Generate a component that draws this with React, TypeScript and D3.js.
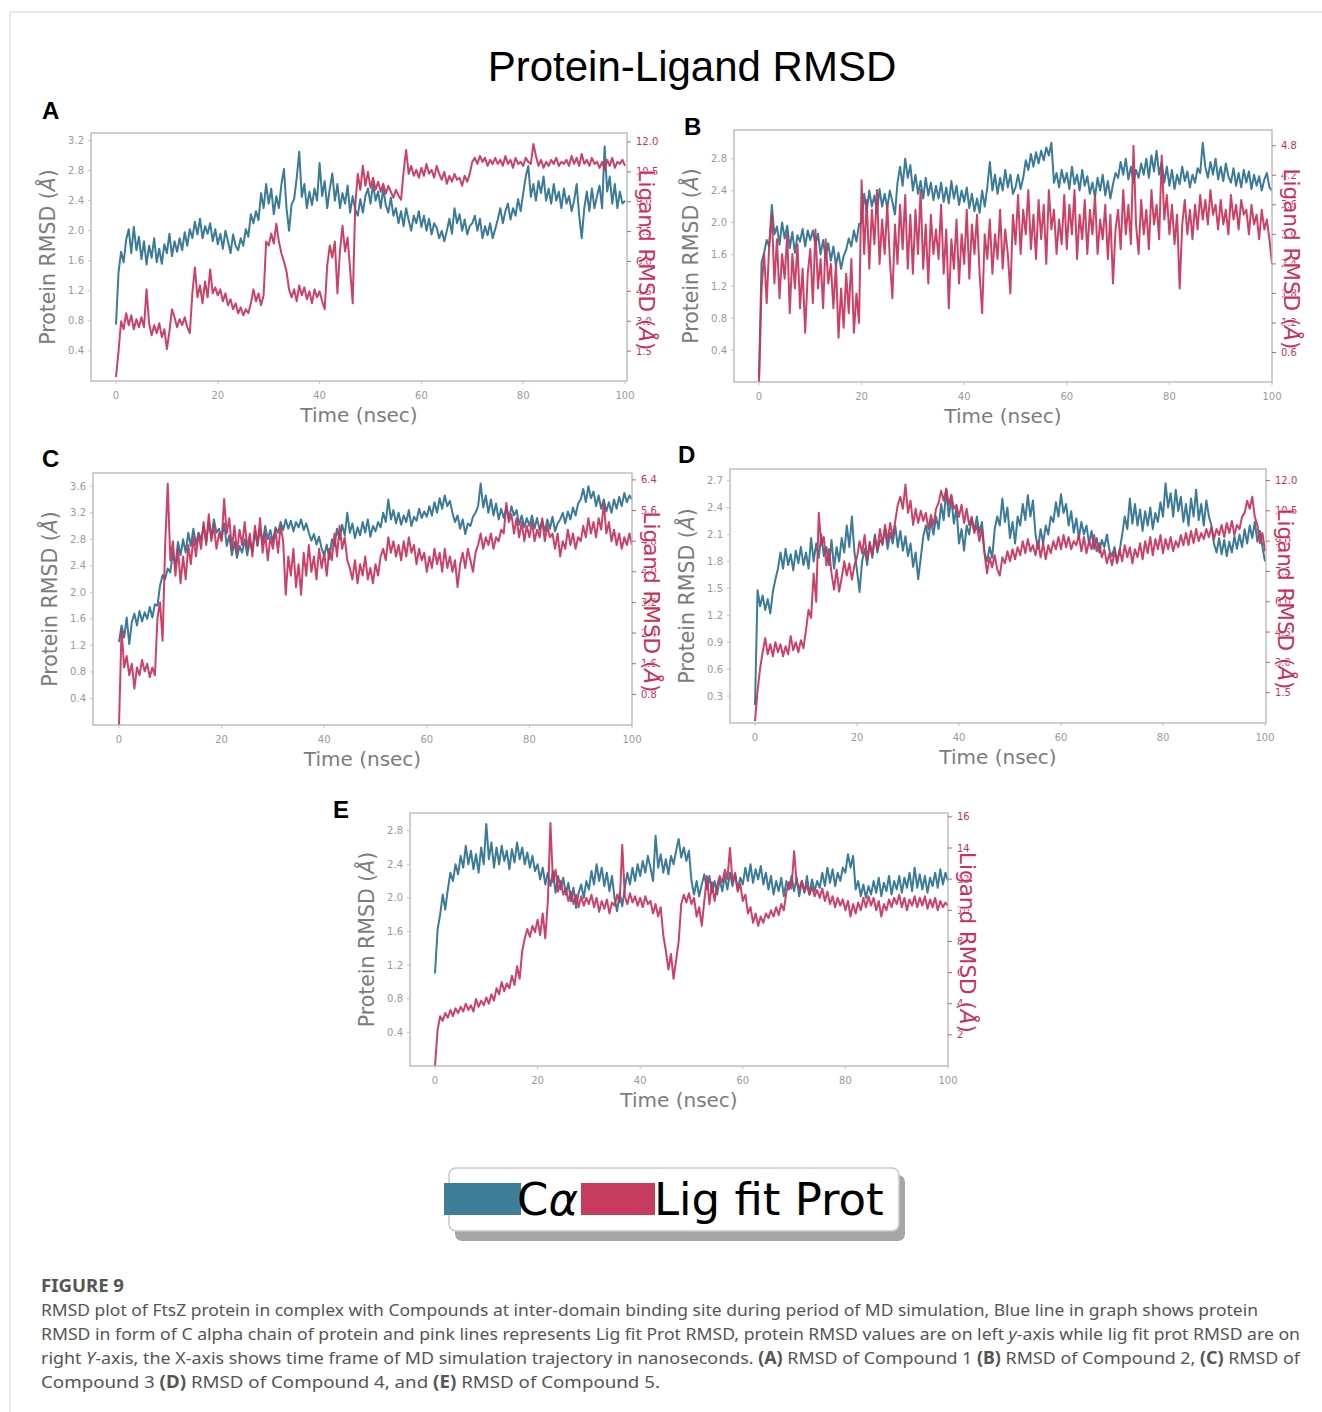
import React from 'react';
import * as d3 from 'd3';

// sampling interval of every trajectory series (nsec)
const STEP = 0.5;

// ---- Compound 1 (A)
const A_PROTEIN = [
  0.75, 1.45, 1.72, 1.58, 1.88, 2.02, 1.7, 2.05, 1.74, 1.92,
  1.62, 1.86, 1.55, 1.8, 1.64, 1.9, 1.58, 1.76, 1.56, 1.82,
  1.7, 1.96, 1.66, 1.86, 1.72, 1.9, 1.74, 1.98, 1.8, 2.02,
  1.9, 2.12, 1.95, 2.16, 1.9, 2.06, 1.96, 2.1, 1.86, 2.02,
  1.82, 1.96, 1.76, 2.0, 1.86, 1.7, 1.95, 1.8, 1.74, 1.9,
  1.8, 2.02, 1.92, 2.22, 2.1, 2.26, 2.14, 2.5, 2.3, 2.62,
  2.36, 2.56, 2.22, 2.46, 2.3, 2.62, 2.82, 2.3, 2.0, 2.35,
  2.42, 2.7, 3.05, 2.45, 2.62, 2.3, 2.52, 2.34, 2.56, 2.4,
  2.9, 2.46, 2.66, 2.3, 2.56, 2.76, 2.4, 2.62, 2.3, 2.5,
  2.36, 2.6, 2.24, 2.46, 2.28, 2.2, 2.42, 2.24, 2.46, 2.56,
  2.36, 2.62, 2.4, 2.52, 2.3, 2.56, 2.34, 2.24, 2.44, 2.2,
  2.3, 2.1, 2.26, 2.06, 2.3, 2.14, 2.0, 2.2, 2.1, 2.26,
  2.05, 2.2, 2.0, 2.16, 1.95, 2.1, 2.04, 1.9, 2.0, 1.86,
  2.0, 2.16, 1.96, 2.3, 2.1, 2.22, 2.0, 2.15, 1.95, 2.06,
  2.1, 2.2, 2.0, 2.16, 1.9, 2.06, 1.94, 2.1, 1.9, 2.02,
  2.15, 2.3, 2.1, 2.26, 2.36, 2.15, 2.3, 2.2, 2.42, 2.26,
  2.5, 2.72, 2.86, 2.45, 2.62, 2.4, 2.66, 2.5, 2.72, 2.4,
  2.56, 2.36, 2.62, 2.4, 2.52, 2.3, 2.56, 2.36, 2.46, 2.26,
  2.4, 2.62, 2.2, 1.9, 2.3, 2.52, 2.26, 2.56, 2.3, 2.46,
  2.6, 2.3, 3.12, 2.52, 2.72, 2.36, 2.62, 2.3, 2.52, 2.36,
  2.4,
];
const A_LIGAND = [
  0.2, 1.5, 3.0, 2.6, 3.4, 2.8, 3.3, 2.6, 3.1, 2.7,
  3.2, 2.7, 4.6, 2.9, 2.3, 2.8, 2.4, 2.9, 2.2, 2.6,
  1.6, 2.5, 3.6, 3.2, 2.7, 3.1, 2.8, 3.2, 2.7, 2.4,
  4.4, 5.7, 4.2, 4.8, 3.9, 5.0, 4.2, 5.6, 4.4, 4.7,
  4.3, 4.6, 4.0, 4.4, 3.8, 4.1, 3.6, 3.9, 3.4, 3.7,
  3.3, 3.6, 3.4, 3.9, 4.6, 4.0, 4.4, 3.8, 4.3, 7.0,
  6.8, 7.4, 6.9, 7.9, 7.0, 6.4, 6.0, 5.5, 4.6, 4.2,
  4.6, 4.0, 4.8, 4.3, 4.7, 4.1, 4.5, 3.9, 4.6, 4.2,
  4.5, 4.0, 3.6, 5.8, 6.8, 6.2, 7.0, 4.4, 6.5, 7.8,
  6.5, 7.2, 5.6, 3.9, 8.8, 10.4, 9.6, 10.8, 9.8, 10.5,
  9.7, 10.2, 9.6, 10.0, 9.5, 9.9, 9.4, 9.8, 9.5, 9.2,
  9.6, 9.3, 9.1, 10.5, 11.6, 10.4, 10.8, 10.3, 10.6, 10.2,
  10.7, 10.3, 10.9, 10.4, 10.6, 10.2, 10.8, 10.4, 10.1, 10.5,
  9.9, 10.3, 10.0, 10.4, 10.1, 10.2, 9.8, 10.3, 10.0, 10.4,
  11.0, 11.2, 10.9, 11.3, 11.0, 11.2, 10.8, 11.1, 10.9, 11.2,
  10.9, 11.1, 10.8, 11.3, 10.9, 11.1, 10.7, 11.2, 10.9, 11.0,
  10.8, 11.2, 11.0, 10.9, 11.9, 11.3, 10.8, 11.1, 10.7, 11.0,
  10.8, 11.1, 10.9, 11.2, 10.8, 11.0, 10.9, 11.1, 10.8, 11.3,
  10.9, 11.2, 10.8, 11.4, 10.9, 11.1, 10.8, 11.2, 10.9, 11.0,
  10.7, 11.0, 10.6, 11.1, 10.8, 11.2, 10.7, 11.0, 10.9, 11.1,
  10.8,
];

// ---- Compound 2 (B)
const B_PROTEIN = [
  0.05, 1.5, 1.62, 1.78, 1.7, 2.22, 1.85, 1.95, 1.72, 2.0,
  1.8, 1.96, 1.68, 1.88, 1.62, 1.84, 1.76, 1.92, 1.7, 1.9,
  1.78, 1.9, 1.72, 1.86, 1.6, 1.78, 1.56, 1.74, 1.52, 1.7,
  1.46, 1.62, 1.42, 1.58, 1.66, 1.8, 1.7, 1.9, 1.76, 1.98,
  2.0, 2.36, 2.14, 2.4, 2.2, 2.34, 2.12, 2.42, 2.2, 2.36,
  2.18, 2.4, 2.26, 2.1, 2.5, 2.7, 2.46, 2.8, 2.56, 2.72,
  2.4, 2.6, 2.36, 2.52, 2.3, 2.56, 2.34, 2.5, 2.28, 2.46,
  2.3, 2.5, 2.26, 2.44, 2.24, 2.52, 2.3, 2.46, 2.22, 2.4,
  2.26, 2.44, 2.18, 2.36, 2.14, 2.3, 2.12, 2.4, 2.2, 2.44,
  2.76, 2.4, 2.6, 2.36, 2.56, 2.4, 2.66, 2.44, 2.6, 2.36,
  2.44, 2.6, 2.42, 2.56, 2.78, 2.66, 2.86, 2.7, 2.88, 2.74,
  2.9, 2.78, 2.94, 2.84, 3.0, 2.5, 2.62, 2.44, 2.66, 2.5,
  2.62, 2.42, 2.7, 2.48, 2.6, 2.4, 2.66, 2.46, 2.58, 2.36,
  2.5, 2.32, 2.56, 2.4, 2.6, 2.34, 2.52, 2.3, 2.48, 2.62,
  2.56, 2.76, 2.6, 2.8, 2.54, 2.7, 2.5, 2.66, 2.56, 2.74,
  2.6, 2.8, 2.56, 2.84, 2.64, 2.9, 2.6, 2.76, 2.5, 2.7,
  2.46, 2.66, 2.42, 2.6, 2.48, 2.7, 2.52, 2.64, 2.44, 2.6,
  2.5, 2.68, 2.62, 3.0, 2.7, 2.56, 2.76, 2.6, 2.8, 2.54,
  2.7, 2.52, 2.74, 2.58, 2.5, 2.68, 2.46, 2.62, 2.44, 2.66,
  2.5, 2.64, 2.42, 2.6, 2.46, 2.58, 2.4, 2.54, 2.62, 2.44,
  2.4,
];
const B_LIGAND = [
  0.0, 1.9, 2.6, 1.6, 2.8, 3.4, 2.0, 2.9, 1.7, 2.6,
  2.1, 3.0, 1.4, 2.6, 1.9, 2.8, 1.5, 2.3, 1.0, 2.2,
  2.7, 1.6, 3.1, 1.9, 2.5, 1.5, 2.9, 2.0, 2.4, 1.5,
  2.4, 0.9, 1.9, 1.1, 2.2, 1.4, 2.5, 1.0, 1.8, 1.2,
  4.1, 2.6, 3.7, 2.3, 3.5, 2.8, 3.9, 2.4, 3.3, 2.6,
  3.6, 2.5, 1.7, 3.2, 2.4, 3.6, 2.7, 3.8, 2.3, 3.4,
  2.2, 3.5, 2.6, 3.9, 2.3, 3.2, 2.0, 3.4, 2.6, 3.1,
  2.5, 3.6, 2.2, 3.1, 1.5, 2.9, 2.3, 3.3, 2.0, 3.0,
  2.4, 3.5, 2.1, 3.2, 2.6, 3.4, 2.2, 1.4, 3.0, 2.5,
  3.3, 2.2, 3.0, 2.5, 3.5, 2.3, 3.1, 2.6, 1.8, 3.4,
  2.8, 3.8, 2.6, 3.5, 3.0, 3.9, 2.7, 3.4, 2.5, 3.7,
  2.9, 3.6, 2.4, 3.9, 3.1, 3.5, 2.6, 3.3, 2.8, 3.8,
  2.7, 3.6, 3.0, 3.9, 2.5, 3.4, 2.9, 3.7, 2.6, 3.5,
  3.0, 3.8, 2.6, 3.3, 2.9, 3.6, 2.5, 3.4, 2.0, 3.1,
  3.5, 2.7, 3.9, 3.0, 3.6, 2.8, 4.8, 3.2, 2.6, 3.7,
  3.0, 3.5, 2.7, 3.9, 3.2, 3.6, 2.9, 4.6, 3.3, 3.8,
  3.0, 3.6, 2.8, 3.4, 1.9, 3.2, 3.7, 3.0, 3.5, 2.9,
  3.6, 3.1, 3.8, 3.3, 3.7, 3.2, 3.9, 3.4, 3.6, 3.1,
  3.7, 3.2, 3.5, 3.0, 3.8, 3.3, 3.6, 3.1, 3.7, 3.4,
  3.5, 3.0, 3.6, 3.2, 3.4, 2.9, 3.5, 3.1, 3.3, 2.9,
  2.4,
];

// ---- Compound 3 (C)
const C_PROTEIN = [
  1.25, 1.5, 1.32, 1.62, 1.22, 1.55, 1.68, 1.5, 1.72, 1.56,
  1.7, 1.6, 1.78, 1.62, 1.82, 1.8, 2.1, 2.26, 2.2, 2.36,
  2.3, 2.6, 2.4, 2.76, 2.56, 2.8, 2.6, 2.9, 2.7, 2.96,
  2.72, 2.9, 2.8, 3.0, 2.76, 3.06, 2.84, 3.1, 2.9, 2.96,
  2.8, 3.04, 2.7, 2.86, 2.56, 2.76, 2.52, 2.7, 2.6, 2.8,
  2.56, 2.78, 2.62, 2.92, 2.7, 2.96, 2.76, 3.0, 2.8, 2.94,
  2.76, 2.98, 2.9, 3.06, 2.94, 3.1, 2.96, 3.08, 2.92, 3.06,
  2.98, 3.1, 2.94, 3.04, 2.9, 2.78, 2.88, 2.72, 2.84, 2.66,
  2.56, 2.72, 2.5, 2.8, 2.7, 2.96, 2.8, 3.02, 2.86, 3.2,
  2.9, 3.04, 2.82, 2.98, 2.86, 3.06, 2.9, 3.1, 2.84, 3.0,
  2.92, 3.06, 2.98, 3.2, 3.06, 3.4, 3.1, 3.24, 3.04, 3.2,
  3.02, 3.16, 3.06, 3.24, 3.0, 3.14, 3.08, 3.26, 3.12, 3.22,
  3.14, 3.3, 3.16, 3.36, 3.2, 3.42, 3.26, 3.46, 3.3, 3.38,
  3.2, 3.06, 3.16, 2.96, 3.1, 2.88, 3.04, 3.0, 3.14, 3.2,
  3.3, 3.64, 3.28, 3.46, 3.2, 3.4, 3.16, 3.34, 3.1, 3.26,
  3.12, 3.28, 3.1, 3.3, 3.16, 3.24, 3.02, 3.16, 2.98, 3.12,
  3.0, 3.16, 2.96, 3.12, 2.94, 3.08, 2.92, 3.1, 2.96, 3.14,
  2.92, 3.04, 3.1, 3.2, 3.04, 3.22, 3.1, 3.28, 3.16, 3.34,
  3.4, 3.56, 3.36, 3.6, 3.42, 3.52, 3.3, 3.46, 3.26, 3.4,
  3.22, 3.36, 3.2, 3.4, 3.26, 3.44, 3.3, 3.5, 3.36, 3.46,
  3.4,
];
const C_LIGAND = [
  0.0, 2.5, 1.5, 1.8, 1.3, 1.6, 0.95, 1.5, 1.3, 1.7,
  1.4, 1.6, 1.25, 1.5, 1.3, 2.8, 3.2, 2.2, 4.7, 6.3,
  4.3, 4.8, 3.9, 4.6, 3.7, 4.4, 3.8, 4.7, 4.2, 4.9,
  4.4, 5.0, 4.6, 5.3, 4.7, 5.5, 4.8, 5.2, 4.6, 5.0,
  4.8, 5.9, 5.0, 5.4, 4.6, 5.2, 4.5, 5.1, 4.7, 5.3,
  4.6, 5.0, 4.4, 5.2, 4.7, 5.4, 4.5, 5.0, 4.3, 4.9,
  4.6, 5.1, 4.5, 5.2, 4.8, 3.4, 4.4, 3.9, 4.6, 3.6,
  4.2, 3.4, 4.5, 3.9, 4.7, 4.0, 4.4, 3.8, 4.6, 4.1,
  4.5, 3.9, 4.6, 4.3, 5.0, 4.4, 5.2, 4.6, 4.9, 4.3,
  4.1, 3.8, 4.3, 3.7, 4.2, 3.9, 4.4, 3.8, 4.1, 3.7,
  4.2, 3.9, 4.4, 4.6, 4.3, 4.9, 4.5, 4.8, 4.4, 4.7,
  4.3, 4.8, 4.4, 4.9, 4.5, 4.7, 4.2, 4.6, 4.3, 4.5,
  4.0, 4.4, 4.1, 4.6, 4.2, 4.5, 4.0, 4.6, 4.1, 4.4,
  4.0, 4.3, 3.6, 4.2, 4.5, 4.1, 4.6, 4.3, 4.0, 4.5,
  4.7, 5.0, 4.6, 4.9, 4.7, 5.0, 4.6, 4.9, 4.8, 5.1,
  5.0, 5.8, 5.3, 5.5, 5.0, 5.4, 4.9, 5.3, 4.8, 5.2,
  4.9, 5.3, 4.8, 5.1, 4.9, 5.4, 4.8, 5.2, 4.9, 5.0,
  4.6, 5.0, 4.4, 4.8, 4.6, 5.1, 4.7, 5.0, 4.6, 4.9,
  4.8, 5.2, 4.9, 5.4, 5.0, 5.3, 4.9, 5.4, 5.1, 5.8,
  5.0, 5.3, 4.8, 5.1, 4.7, 5.0, 4.6, 4.9, 4.7, 5.0,
  4.7,
];

// ---- Compound 4 (D)
const D_PROTEIN = [
  0.2, 1.48, 1.3, 1.42, 1.26, 1.38, 1.22, 1.46, 1.6, 1.72,
  1.9, 1.72, 1.94, 1.76, 1.88, 1.7, 1.92, 1.78, 1.96, 1.76,
  1.9, 1.72, 2.06, 1.8, 2.0, 1.84, 2.1, 1.86, 1.96, 1.76,
  2.04, 1.72, 1.96, 1.8, 2.06, 1.9, 2.2, 1.96, 2.3, 1.9,
  1.7, 1.46, 1.8, 1.94, 1.76, 2.02, 1.84, 2.1, 1.9, 2.04,
  2.0, 2.16, 1.94, 2.12, 2.0, 2.2, 1.96, 2.14, 1.92, 2.08,
  1.86, 2.0, 1.74, 1.9, 1.6, 1.84, 2.08, 2.2, 2.04, 2.26,
  2.1, 2.3, 2.16, 2.44, 2.26, 2.6, 2.3, 2.5, 2.22, 2.4,
  2.0, 2.16, 1.92, 2.2, 2.1, 2.28, 2.14, 2.3, 2.12, 2.24,
  1.9, 1.8, 1.96, 1.84, 2.16, 2.3, 2.2, 2.5, 2.24, 2.4,
  2.06, 2.24, 2.0, 2.3, 2.2, 2.44, 2.26, 2.54, 2.3, 2.48,
  2.1, 1.94, 2.16, 2.0, 2.2, 2.1, 2.3, 2.24, 2.46, 2.3,
  2.55, 2.34, 2.44, 2.2, 2.36, 2.12, 2.28, 2.06, 2.24, 2.1,
  2.2, 2.0, 2.14, 1.94, 2.06, 1.9, 2.04, 1.96, 2.1, 1.92,
  1.86, 1.96, 1.8, 1.92, 2.1, 2.3, 2.16, 2.5, 2.22, 2.44,
  2.2, 2.38, 2.14, 2.36, 2.2, 2.4, 2.16, 2.34, 2.24, 2.46,
  2.3, 2.67, 2.4, 2.56, 2.3, 2.6, 2.36, 2.52, 2.24, 2.44,
  2.2, 2.5, 2.3, 2.6, 2.26, 2.44, 2.2, 2.48, 2.3, 2.2,
  2.0, 1.9, 2.06, 1.88, 2.04, 1.86, 2.02, 1.9, 2.08, 1.94,
  2.1, 1.96, 2.16, 2.0, 2.2, 2.06, 2.24, 2.02, 2.14, 1.96,
  1.8,
];
const D_LIGAND = [
  0.1, 1.6, 2.7, 3.5, 4.2, 3.4, 3.9, 3.3, 4.0, 3.5,
  3.9, 3.3, 3.8, 3.4, 4.3, 3.6, 4.0, 3.5, 4.1, 3.7,
  4.6, 5.6, 5.2, 7.4, 6.0, 10.4, 8.8, 9.2, 7.8, 8.6,
  7.4, 6.6, 7.6, 6.5, 7.2, 8.0, 7.3, 7.9, 7.1, 7.8,
  8.2, 9.0, 8.4, 9.3, 8.1, 8.9, 8.3, 9.2, 8.6, 9.6,
  8.8, 9.8, 9.0, 9.9, 9.2, 10.0, 10.8, 11.2, 10.6, 11.8,
  10.4, 11.0, 9.8, 10.6, 9.9, 10.5, 10.0, 10.4, 9.6, 10.3,
  9.8, 10.6, 10.9, 11.5, 11.0, 11.6, 10.8, 11.3, 10.6, 10.8,
  10.2, 10.8, 9.9, 10.6, 9.8, 10.2, 9.4, 9.8, 9.0, 9.6,
  8.4, 7.4, 8.2, 7.7, 8.3, 7.6, 7.3, 8.2, 7.9, 8.5,
  8.0, 8.6, 8.1, 8.7, 8.3, 9.0, 8.4, 9.1, 8.5, 8.8,
  8.3, 9.0, 8.2, 8.9, 8.1, 8.8, 8.4, 9.0, 8.6, 9.2,
  8.6, 9.3, 8.7, 9.2, 8.6, 9.0, 8.8, 9.3, 8.5, 9.2,
  8.4, 9.0, 8.6, 9.3, 8.5, 8.9, 8.2, 8.6, 7.9, 8.4,
  7.8, 8.5, 7.9, 8.6, 8.0, 8.8, 8.2, 8.7, 7.9, 8.6,
  8.2, 8.9, 8.1, 9.0, 8.4, 9.2, 8.3, 9.1, 8.6, 9.3,
  8.4, 9.1, 8.6, 9.2, 8.5, 9.0, 8.7, 9.3, 8.8, 9.4,
  8.8, 9.5, 8.9, 9.6, 9.0, 9.4, 9.1, 9.6, 9.2, 9.7,
  9.1, 9.6, 9.3, 9.8, 9.2, 9.9, 9.4, 10.0, 9.3, 9.8,
  9.6, 10.2, 10.4, 11.0, 10.6, 11.2, 10.2, 9.8, 8.9, 9.4,
  8.5,
];

// ---- Compound 5 (E)
const E_PROTEIN = [
  1.1, 1.62, 1.8, 2.04, 1.86, 2.1, 2.3, 2.2, 2.4, 2.28,
  2.5, 2.36, 2.62, 2.4, 2.56, 2.34, 2.52, 2.3, 2.6, 2.4,
  2.88, 2.46, 2.66, 2.36, 2.6, 2.4, 2.62, 2.44, 2.56, 2.34,
  2.58, 2.42, 2.66, 2.46, 2.6, 2.4, 2.54, 2.36, 2.5, 2.32,
  2.4, 2.22, 2.36, 2.16, 2.3, 2.14, 2.32, 2.06, 2.26, 2.1,
  2.24, 2.04, 2.18, 1.96, 2.12, 1.88, 2.06, 2.16, 2.0, 2.2,
  2.1, 2.32, 2.16, 2.4, 2.2, 2.36, 2.14, 2.3, 2.08, 2.26,
  2.0, 1.84, 2.06, 1.9, 2.12, 2.3, 2.16, 2.36, 2.2, 2.4,
  2.26, 2.44, 2.3, 2.5, 2.36, 2.2, 2.74, 2.36, 2.52, 2.3,
  2.46, 2.28, 2.5, 2.4, 2.56, 2.7, 2.48, 2.6, 2.44, 2.56,
  2.2, 2.04, 2.2, 2.02, 2.16, 2.28, 2.1, 2.26, 2.06, 2.2,
  2.04, 2.22, 2.08, 2.26, 2.1, 2.3, 2.14, 2.28, 2.1, 2.24,
  2.16, 2.36, 2.2, 2.4, 2.18, 2.34, 2.22, 2.38, 2.16, 2.3,
  2.1, 2.26, 2.04, 2.2, 2.08, 2.24, 2.02, 2.2, 2.1, 2.26,
  2.08, 2.24, 2.02, 2.2, 2.06, 2.26, 2.04, 2.22, 2.08, 2.2,
  2.12, 2.3, 2.14, 2.36, 2.18, 2.34, 2.14, 2.3, 2.2, 2.36,
  2.3, 2.52, 2.36, 2.5, 2.1, 2.2, 2.02, 2.16, 2.0, 2.14,
  2.04, 2.2, 2.06, 2.24, 2.02, 2.18, 2.08, 2.26, 2.04, 2.2,
  2.1, 2.26, 2.06, 2.24, 2.12, 2.3, 2.08, 2.36, 2.12, 2.28,
  2.1, 2.26, 2.06, 2.24, 2.14, 2.3, 2.12, 2.34, 2.16, 2.3,
  2.2,
];
const E_LIGAND = [
  0.0, 2.3, 3.2, 2.9, 3.4, 3.1, 3.6, 3.2, 3.7, 3.4,
  3.8, 3.5, 4.0, 3.6, 3.9, 3.5, 4.3, 3.8, 4.2, 3.9,
  4.4, 4.0, 4.6, 4.2, 5.0, 4.6, 5.4, 4.8, 5.3, 5.0,
  5.8, 5.2, 6.4, 5.6, 7.4, 8.2, 8.8, 8.3, 9.0, 8.6,
  9.4, 8.4, 9.8, 8.2, 10.6, 15.6, 11.8, 12.6, 11.2, 11.9,
  11.0, 11.4, 10.6, 11.2, 10.4, 11.0, 10.2, 10.9, 10.3, 10.8,
  10.4, 11.0, 10.2, 10.8, 9.9, 10.6, 10.1, 10.7, 9.8, 10.5,
  10.3, 11.0, 10.5, 14.2, 10.9, 10.4, 11.1, 10.5, 10.9, 10.3,
  10.8, 10.2, 10.9, 10.4, 10.6, 9.8, 10.4, 9.6, 10.2, 8.4,
  7.4, 6.2, 7.2, 5.6, 6.8, 8.0, 10.4, 11.0, 10.5, 11.1,
  10.4, 10.8, 9.6, 10.2, 9.0, 10.6, 12.2, 10.4, 11.8, 10.6,
  11.6, 12.2, 11.8, 12.6, 12.0, 14.0, 11.8, 12.4, 11.2, 11.7,
  10.6, 11.0, 9.8, 10.2, 9.2, 9.8, 9.0, 9.6, 9.2, 9.8,
  9.5, 10.0, 9.6, 10.2, 9.7, 10.4, 10.0, 11.2, 11.8, 11.4,
  13.8, 11.8, 11.4, 11.9, 11.2, 11.6, 11.0, 11.5, 10.9, 11.3,
  10.8, 11.4, 10.6, 11.2, 10.4, 10.9, 10.2, 10.8, 10.3, 10.7,
  10.0, 10.6, 9.6, 10.4, 9.8, 10.5, 10.0, 10.8, 10.2, 10.9,
  10.3, 10.8, 10.0, 10.6, 9.6, 10.4, 10.0, 10.7, 10.2, 10.8,
  10.4, 11.0, 10.2, 10.8, 10.0, 10.7, 10.3, 10.9, 10.2, 10.8,
  10.3, 10.9, 10.1, 10.7, 10.2, 10.8, 10.0, 10.6, 10.2, 10.5,
  10.3,
];

// axis ticks
const TIME_TICKS = [0, 20, 40, 60, 80, 100];
const A_LEFT_TICKS = [0.4, 0.8, 1.2, 1.6, 2.0, 2.4, 2.8, 3.2];
const A_RIGHT_TICKS = [1.5, 3.0, 4.5, 6.0, 7.5, 9.0, 10.5, 12.0];
const B_LEFT_TICKS = [0.4, 0.8, 1.2, 1.6, 2.0, 2.4, 2.8];
const B_RIGHT_TICKS = [0.6, 1.2, 1.8, 2.4, 3.0, 3.6, 4.2, 4.8];
const C_LEFT_TICKS = [0.4, 0.8, 1.2, 1.6, 2.0, 2.4, 2.8, 3.2, 3.6];
const C_RIGHT_TICKS = [0.8, 1.6, 2.4, 3.2, 4.0, 4.8, 5.6, 6.4];
const D_LEFT_TICKS = [0.3, 0.6, 0.9, 1.2, 1.5, 1.8, 2.1, 2.4, 2.7];
const D_RIGHT_TICKS = [1.5, 3.0, 4.5, 6.0, 7.5, 9.0, 10.5, 12.0];
const E_LEFT_TICKS = [0.4, 0.8, 1.2, 1.6, 2.0, 2.4, 2.8];
const E_RIGHT_TICKS = [2, 4, 6, 8, 10, 12, 14, 16];

const BLUE = '#3b7b97';
const RED = '#c8325a';
const SANS = 'DejaVu Sans, sans-serif';

const panels = [
  { id: 'A', protein: A_PROTEIN, ligand: A_LIGAND, lt: A_LEFT_TICKS, rt: A_RIGHT_TICKS, lMax: 3.3, rMax: 12.45, fmt: '.1f',
    x0: 91, x1: 627, y0: 133, y1: 381, t0: 116, t100: 625, letter: [42, 119] },
  { id: 'B', protein: B_PROTEIN, ligand: B_LIGAND, lt: B_LEFT_TICKS, rt: B_RIGHT_TICKS, lMax: 3.16, rMax: 5.12, fmt: '.1f',
    x0: 734, x1: 1272, y0: 130, y1: 382, t0: 759, t100: 1272, letter: [684, 135] },
  { id: 'C', protein: C_PROTEIN, ligand: C_LIGAND, lt: C_LEFT_TICKS, rt: C_RIGHT_TICKS, lMax: 3.8, rMax: 6.58, fmt: '.1f',
    x0: 93, x1: 632, y0: 473, y1: 725, t0: 119, t100: 632, letter: [42, 467] },
  { id: 'D', protein: D_PROTEIN, ligand: D_LIGAND, lt: D_LEFT_TICKS, rt: D_RIGHT_TICKS, lMax: 2.83, rMax: 12.57, fmt: '.1f',
    x0: 730, x1: 1266, y0: 469, y1: 723, t0: 755, t100: 1265, letter: [678, 463] },
  { id: 'E', protein: E_PROTEIN, ligand: E_LIGAND, lt: E_LEFT_TICKS, rt: E_RIGHT_TICKS, lMax: 3.01, rMax: 16.25, fmt: 'd',
    x0: 410, x1: 948, y0: 813, y1: 1066, t0: 435, t100: 948, letter: [333, 818] },
];

function Panel({ p }) {
  const x = d3.scaleLinear().domain([0, 100]).range([p.t0, p.t100]);
  const yl = d3.scaleLinear().domain([0, p.lMax]).range([p.y1, p.y0]);
  const yr = d3.scaleLinear().domain([0, p.rMax]).range([p.y1, p.y0]);
  const lineL = d3.line().x((d, i) => x(i * STEP)).y(d => yl(d));
  const lineR = d3.line().x((d, i) => x(i * STEP)).y(d => yr(d));
  const fmt = d3.format(p.fmt);
  const cx = (p.x0 + p.x1) / 2;
  const cy = (p.y0 + p.y1) / 2;
  return (
    <g>
      <defs>
        <clipPath id={'clip' + p.id}>
          <rect x={p.x0} y={p.y0} width={p.x1 - p.x0} height={p.y1 - p.y0} />
        </clipPath>
      </defs>
      <text x={p.letter[0]} y={p.letter[1]} fontFamily="Liberation Sans, Arial, sans-serif" fontWeight="bold" fontSize={24}>{p.id}</text>
      <g clipPath={`url(#clip${p.id})`}>
        <path d={lineL(p.protein)} fill="none" stroke={BLUE} strokeWidth={2} strokeLinejoin="round" />
        <path d={lineR(p.ligand)} fill="none" stroke={RED} strokeWidth={2} strokeOpacity={0.92} strokeLinejoin="round" />
      </g>
      <rect x={p.x0} y={p.y0} width={p.x1 - p.x0} height={p.y1 - p.y0} fill="none" stroke="#b4b4b4" strokeWidth={1.3} />
      {TIME_TICKS.map(t => (
        <g key={'x' + t}>
          <line x1={x(t)} x2={x(t)} y1={p.y1} y2={p.y1 + 3} stroke="#c4c4c4" />
          <text x={x(t)} y={p.y1 + 18} textAnchor="middle" fontFamily={SANS} fontSize={10} fill="#9a9a9a">{t}</text>
        </g>
      ))}
      {p.lt.map(v => (
        <g key={'l' + v}>
          <line x1={p.x0 - 3} x2={p.x0} y1={yl(v)} y2={yl(v)} stroke="#c4c4c4" />
          <text x={p.x0 - 7} y={yl(v) + 3.5} textAnchor="end" fontFamily={SANS} fontSize={10} fill="#9a9a9a">{v.toFixed(1)}</text>
        </g>
      ))}
      {p.rt.map(v => (
        <g key={'r' + v}>
          <line x1={p.x1} x2={p.x1 + 4} y1={yr(v)} y2={yr(v)} stroke={RED} strokeOpacity={0.8} />
          <text x={p.x1 + 9} y={yr(v) + 3.5} fontFamily={SANS} fontSize={10} fill={RED}>{fmt(v)}</text>
        </g>
      ))}
      <text x={cx} y={p.y1 + 41} textAnchor="middle" fontFamily={SANS} fontSize={20} fill="#7c7c7c">Time (nsec)</text>
      <text transform={`translate(${p.x0 - 36},${cy}) rotate(-90)`} textAnchor="middle" fontFamily={SANS} fontSize={20.5} fill="#7c7c7c">
        Protein RMSD (<tspan fontStyle="italic">Å</tspan>)
      </text>
      <text transform={`translate(${p.x1 + 12},${cy + 3}) rotate(90)`} textAnchor="middle" fontFamily={SANS} fontSize={21.5} fill={RED}
        stroke="#fff" strokeWidth={1.3} paintOrder="stroke">
        Ligand RMSD (<tspan fontStyle="italic">Å</tspan>)
      </text>
    </g>
  );
}

const CAPTION = [
  [{ t: 'RMSD plot of FtsZ protein in complex with Compounds at inter-domain binding site during period of MD simulation, Blue line in graph shows protein' }],
  [{ t: 'RMSD in form of C alpha chain of protein and pink lines represents Lig fit Prot RMSD, protein RMSD values are on left ' }, { t: 'y', i: true }, { t: '-axis while lig fit prot RMSD are on' }],
  [{ t: 'right ' }, { t: 'Y', i: true }, { t: '-axis, the X-axis shows time frame of MD simulation trajectory in nanoseconds. ' }, { t: '(A)', b: true }, { t: ' RMSD of Compound 1 ' }, { t: '(B)', b: true }, { t: ' RMSD of Compound 2, ' }, { t: '(C)', b: true }, { t: ' RMSD of' }],
  [{ t: 'Compound 3 ' }, { t: '(D)', b: true }, { t: ' RMSD of Compound 4, and ' }, { t: '(E)', b: true }, { t: ' RMSD of Compound 5.' }],
];
const CAPTION_WIDTH = [1217, 1259, 1259, 619];

export default function App() {
  return (
    <svg width={1322} height={1412} style={{ position: 'absolute', left: 0, top: 0, background: '#fff' }}>
      <line x1={10} y1={12} x2={1322} y2={12} stroke="#d4d4d4" />
      <line x1={10} y1={12} x2={10} y2={1412} stroke="#d4d4d4" />
      <text x={692} y={81} textAnchor="middle" fontFamily="Liberation Sans, Arial, sans-serif" fontSize={42}>Protein-Ligand RMSD</text>
      {panels.map(p => <Panel key={p.id} p={p} />)}

      {/* legend */}
      <rect x={455} y={1175} width={450} height={66} rx={7} fill="#a6a6a6" />
      <rect x={449} y={1168} width={450} height={63} rx={7} fill="#fff" stroke="#c8c8c8" strokeWidth={1.5} />
      <rect x={444} y={1183} width={77} height={32} fill="#3f7e99" />
      <text x={517} y={1215} fontFamily={SANS} fontSize={45}>C<tspan fontStyle="italic">α</tspan></text>
      <rect x={581} y={1183} width={74} height={32} fill="#c73b5e" />
      <text x={654} y={1215} fontFamily={SANS} fontSize={45}>Lig fit Prot</text>

      {/* caption */}
      <text x={41} y={1292} fontFamily="Noto Sans, sans-serif" fontWeight="bold" fontSize={17} fill="#555" textLength={83} lengthAdjust="spacingAndGlyphs">FIGURE 9</text>
      {CAPTION.map((parts, k) => (
        <text key={k} x={41} y={1316 + k * 24} fontFamily="Noto Sans, sans-serif" fontSize={17} fill="#555"
          textLength={CAPTION_WIDTH[k]} lengthAdjust="spacingAndGlyphs">
          {parts.map((s, j) => (
            <tspan key={j} fontStyle={s.i ? 'italic' : 'normal'} fontWeight={s.b ? 'bold' : 'normal'}>{s.t}</tspan>
          ))}
        </text>
      ))}
    </svg>
  );
}
